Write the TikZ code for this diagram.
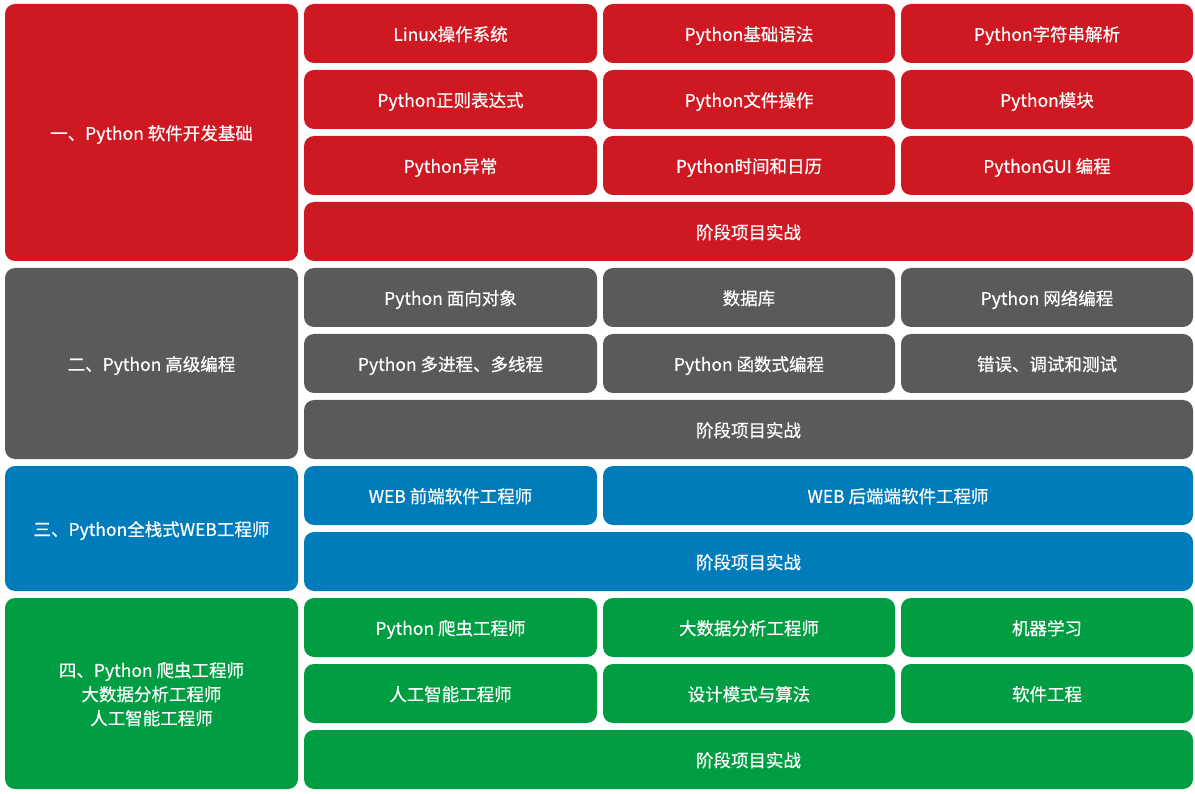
\documentclass[tikz,border=0pt]{standalone}
\usepackage{fontspec}
\setmainfont{Noto Sans CJK SC}[FakeBold=0.5]
\definecolor{cRed}{HTML}{CE1922}
\definecolor{cGray}{HTML}{5B5A58}
\definecolor{cBlue}{HTML}{007CBA}
\definecolor{cGreen}{HTML}{009D42}
\tikzset{
  cell/.style={rounded corners=10pt, inner sep=0pt, outer sep=0pt, text=white,
    align=center, font=\fontsize{17.5}{24}\selectfont, minimum height=59pt,
    text depth=0pt},
  wide/.style={minimum width=293pt},
  red/.style={cell, fill=cRed},
  gray/.style={cell, fill=cGray},
  blue/.style={cell, fill=cBlue},
  green/.style={cell, fill=cGreen},
}
\begin{document}
\begin{tikzpicture}[x=1pt, y=-1pt]
\useasboundingbox (0,0) rectangle (1195,794);
% Section 1: software development basics
\node[red, wide, minimum height=257pt] (s1) at (151.5,132.5) {一、Python 软件开发基础};
\node[red, minimum width=293pt] (a11) at (450.5,33.5) {Linux操作系统};
\node[red, minimum width=292pt] (a12) at (749,33.5) {Python基础语法};
\node[red, minimum width=292pt] (a13) at (1047,33.5) {Python字符串解析};
\node[red, minimum width=293pt] (a21) at (450.5,99.5) {Python正则表达式};
\node[red, minimum width=292pt] (a22) at (749,99.5) {Python文件操作};
\node[red, minimum width=292pt] (a23) at (1047,99.5) {Python模块};
\node[red, minimum width=293pt] (a31) at (450.5,165.5) {Python异常};
\node[red, minimum width=292pt] (a32) at (749,165.5) {Python时间和日历};
\node[red, minimum width=292pt] (a33) at (1047,165.5) {PythonGUI 编程};
\node[red, minimum width=889pt] (a4) at (748.5,231.5) {阶段项目实战};
% Section 2: advanced programming
\node[gray, wide, minimum height=191pt] (s2) at (151.5,363.5) {二、Python 高级编程};
\node[gray, minimum width=293pt] (b11) at (450.5,297.5) {Python 面向对象};
\node[gray, minimum width=292pt] (b12) at (749,297.5) {数据库};
\node[gray, minimum width=292pt] (b13) at (1047,297.5) {Python 网络编程};
\node[gray, minimum width=293pt] (b21) at (450.5,363.5) {Python 多进程、多线程};
\node[gray, minimum width=292pt] (b22) at (749,363.5) {Python 函数式编程};
\node[gray, minimum width=292pt] (b23) at (1047,363.5) {错误、调试和测试};
\node[gray, minimum width=889pt] (b3) at (748.5,429.5) {阶段项目实战};
% Section 3: full-stack web
\node[blue, wide, minimum height=125pt] (s3) at (151.5,528.5) {三、Python全栈式WEB工程师};
\node[blue, minimum width=293pt] (c11) at (450.5,495.5) {WEB 前端软件工程师};
\node[blue, minimum width=590pt] (c12) at (898,495.5) {WEB 后端端软件工程师};
\node[blue, minimum width=889pt] (c2) at (748.5,561.5) {阶段项目实战};
% Section 4: crawler, big data, AI
\node[green, wide, minimum height=191pt] (s4) at (151.5,693.5) {四、Python 爬虫工程师\\大数据分析工程师\\人工智能工程师};
\node[green, minimum width=293pt] (d11) at (450.5,627.5) {Python 爬虫工程师};
\node[green, minimum width=292pt] (d12) at (749,627.5) {大数据分析工程师};
\node[green, minimum width=292pt] (d13) at (1047,627.5) {机器学习};
\node[green, minimum width=293pt] (d21) at (450.5,693.5) {人工智能工程师};
\node[green, minimum width=292pt] (d22) at (749,693.5) {设计模式与算法};
\node[green, minimum width=292pt] (d23) at (1047,693.5) {软件工程};
\node[green, minimum width=889pt] (d3) at (748.5,759.5) {阶段项目实战};
\end{tikzpicture}
\end{document}
